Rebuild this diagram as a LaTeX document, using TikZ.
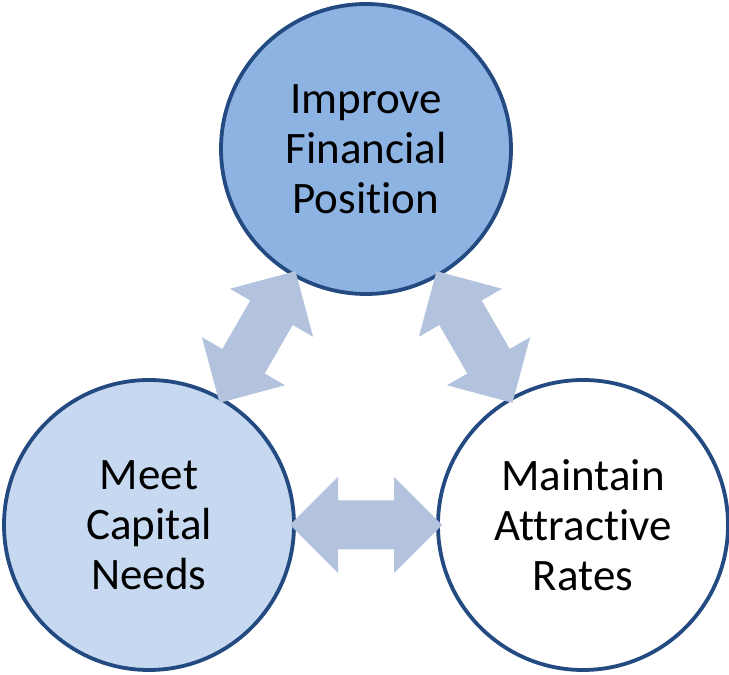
\documentclass[tikz,border=0pt]{standalone}
\usepackage{fontspec}
\setmainfont{Carlito}[RawFeature=-liga]
\usepackage{tikz}
\usetikzlibrary{calc}
\usepackage{xcolor}
\definecolor{ringblue}{RGB}{35,75,130}
\definecolor{topfill}{RGB}{141,179,226}
\definecolor{capfill}{RGB}{198,217,241}
\definecolor{arrowfill}{RGB}{179,195,222}

\begin{document}
\begin{tikzpicture}[
  x=1pt, y=1pt,
  goal/.style={circle, draw=ringblue, line width=3.8pt, minimum size=290pt,
               inner sep=0pt, align=center, font=\fontsize{45}{50}\selectfont},
  link/.style={fill=arrowfill}
]
  \useasboundingbox (0,0) rectangle (729,675);
  \node[goal, fill=topfill] (fin) at (366,526) {Improve\\Financial\\Position};
  \node[goal, fill=capfill] (cap) at (149,150) {Meet\\Capital\\Needs};
  \node[goal, fill=white] (rat) at (583,150) {Maintain\\Attractive\\Rates};

  % fat two-headed arrows between the goals
  \foreach \a/\b/\ang in {cap/fin/60, fin/rat/-60, cap/rat/0}
    \fill[link, shift={($(\a)!0.5!(\b)$)}, rotate=\ang]
      (-76,0) -- (-28,48) -- (-28,24.5) -- (28,24.5) -- (28,48) -- (76,0)
      -- (28,-48) -- (28,-24.5) -- (-28,-24.5) -- (-28,-48) -- cycle;
\end{tikzpicture}
\end{document}
